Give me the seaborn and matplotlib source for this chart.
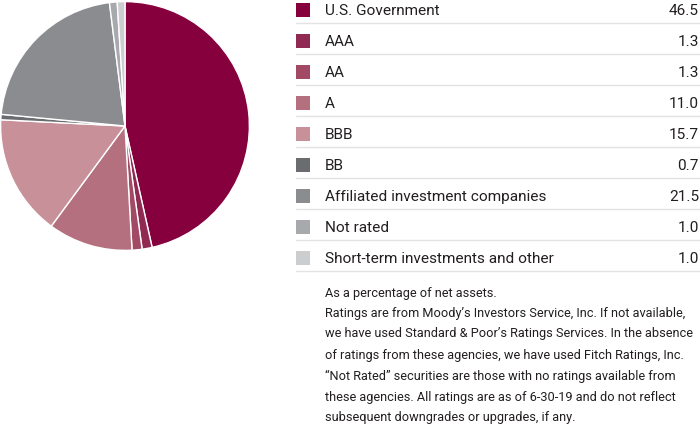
import matplotlib
matplotlib.use("Agg")
import matplotlib.pyplot as plt
import seaborn as sns
import pandas as pd

categories = ["U.S. Government", "AAA", "AA", "A", "BBB", "BB",
              "Affiliated investment companies", "Not rated",
              "Short-term investments and other"]
values = [46.5, 1.3, 1.3, 11.0, 15.7, 0.7, 21.5, 1.0, 1.0]
colors = ["#85003C", "#902A52", "#A14965", "#B4707F", "#C8919A",
          "#6B6C6F", "#8A8C8F", "#A7A9AC", "#CCCDCF"]

footnote = ("As a percentage of net assets.",
            ["Ratings are from Moody\u2019s Investors Service, Inc. If not available,",
             "we have used Standard & Poor\u2019s Ratings Services. In the absence",
             "of ratings from these agencies, we have used Fitch Ratings, Inc.",
             "\u201cNot Rated\u201d securities are those with no ratings available from",
             "these agencies. All ratings are as of 6-30-19 and do not reflect",
             "subsequent downgrades or upgrades, if any."])

sns.set_theme(style="white")
plt.rcParams['font.family'] = ['Roboto', 'DejaVu Sans']
text_color = "#231F20"

fig = plt.figure(figsize=(7, 4.28), dpi=100)

# overlay axes in pixel coords for the legend table and notes
ax = fig.add_axes([0, 0, 1, 1])
ax.axis("off")

# pie
pax = fig.add_axes([0, 1 - 251 / 428, 250 / 700, 250 / 428])
pax.pie(values, colors=colors, startangle=90, counterclock=False,
        wedgeprops=dict(edgecolor="white", linewidth=1))
pax.set_xlim(-1.005, 1.005)
pax.set_ylim(-1.005, 1.005)
pax.set_aspect("equal")

# legend table
row_h = 31
df = pd.DataFrame({"label": categories, "value": values,
                   "y": [10 + i * row_h for i in range(len(categories))]})
sns.scatterplot(data=df, x=[303] * len(df), y="y", hue="label",
                palette=colors, marker="s", s=110, linewidth=0,
                legend=False, ax=ax)
for i, row in df.iterrows():
    ax.text(325, row["y"] + 1, row["label"], va="center", ha="left",
            fontsize=11.1, color=text_color)
    ax.text(699, row["y"] + 1, f"{row['value']:.1f}", va="center", ha="right",
            fontsize=11.1, color=text_color)
    ax.plot([296, 700], [row["y"] + 13, row["y"] + 13], color="#E3E3E3", lw=1)
ax.set_xlim(0, 700)
ax.set_ylim(428, 0)

ax.text(325, 293, footnote[0], va="center", ha="left", fontsize=9.2,
        color=text_color)
for i, line in enumerate(footnote[1]):
    ax.text(325, 313 + i * 21, line, va="center", ha="left",
            fontsize=9.2, color=text_color)

fig.savefig("out.png", dpi=100)
